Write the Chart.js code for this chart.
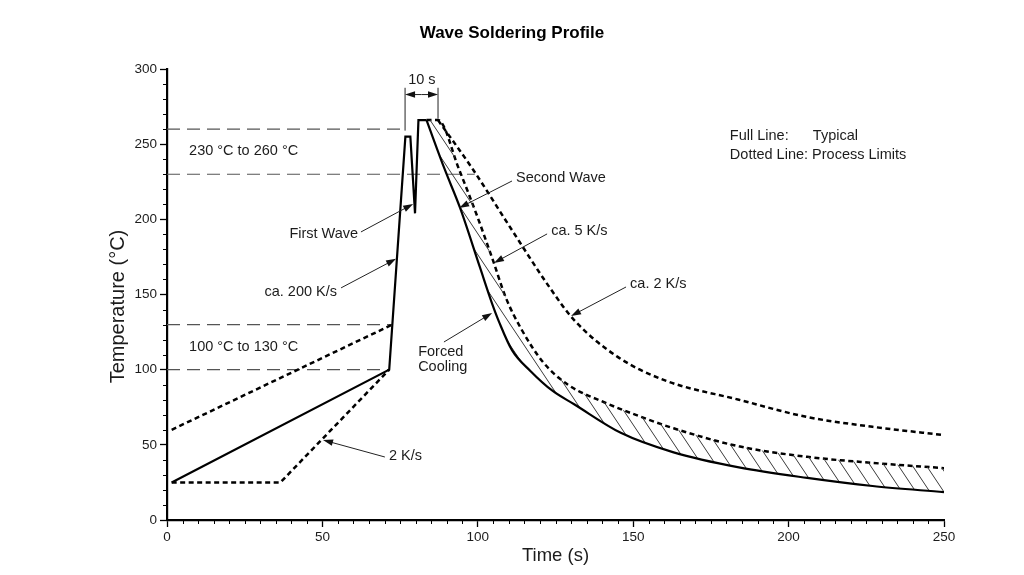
<!DOCTYPE html>
<html>
<head>
<meta charset="utf-8">
<title>Wave Soldering Profile</title>
<script src="https://cdn.jsdelivr.net/npm/chart.js@4.4.1/dist/chart.umd.min.js"></script>
<style>
  html, body { margin: 0; padding: 0; background: #fff; }
  #wrap { width: 1024px; height: 575px; }
</style>
</head>
<body>
<div id="wrap"><canvas id="profileChart" width="1024" height="575"></canvas></div>
<script>
// values: time in s, temperature in °C

// typical profile (full line): preheat + both waves
const heatTime = [1.5, 71.5, 76.7, 78.3, 79.8, 80.9, 83.5];
const heatTemp = [25, 100, 255, 255, 204, 266, 266];

// typical profile (full line): forced cooling
const coolTime = [83.5, 89.4, 94.3, 100.7, 104.6, 107, 111, 117, 124, 131, 146, 163, 184, 206, 227, 250];
const coolTemp = [266, 233, 207.6, 168, 144, 131, 113, 99, 86, 77, 58, 45, 35, 28, 22.6, 18.5];

// process limits (dotted lines)
const lowPreTime = [1.5, 36.5, 71.5];
const lowPreTemp = [25, 25, 100];
const highPreTime = [1.5, 72.5];
const highPreTemp = [60, 130];

const fastCoolTime = [83.5, 87.2, 94, 100, 105, 109, 114, 121, 129, 141, 152, 163, 184, 206, 227, 250];
const fastCoolTemp = [266, 266, 233, 201, 172, 148, 127, 105, 90, 78, 69, 61, 49, 42, 38, 34.5];

const slowCoolTime = [87.2, 98.5, 110, 123, 131, 145, 160, 184, 206, 227, 250];
const slowCoolTemp = [266, 233, 196, 155, 133, 108.5, 93, 80, 68.5, 62, 56.5];

// dashed reference levels and where they stop
const refLevels = [260, 230, 130, 100];
const refEnds = [76.6, 99, 72.5, 71.5];

const xMajorStep = 50, xMinorStep = 5;
const yMajorStep = 50, yMinorStep = 10;

function pts(xs, ys) {
  return xs.map((x, i) => ({ x: x, y: ys[i] }));
}

function hatchPattern() {
  const c = document.createElement('canvas');
  c.width = 14; c.height = 21;
  const g = c.getContext('2d');
  g.strokeStyle = '#3a3a3a';
  g.lineWidth = 1;
  g.beginPath();
  [-14, 0, 14].forEach(function(dx) { g.moveTo(dx, 0); g.lineTo(dx + 14, 21); });
  g.stroke();
  return g.createPattern(c, 'repeat');
}

const FONT = "'Liberation Sans', Arial, Helvetica, sans-serif";
const INK = '#1c1c1c';

const solid = { borderColor: '#000', borderWidth: 2.2, pointRadius: 0, fill: false };
const dotted = { borderColor: '#000', borderWidth: 2.5, borderDash: [5, 3.5], pointRadius: 0, fill: false };

// text labels and leader arrows, placed in data units (s, °C)
const labels = [
  { text: '10 s', t: 82, T: 292.5, align: 'center' },
  { text: '230 °C to 260 °C', t: 7.1, T: 245.5, align: 'left' },
  { text: '100 °C to 130 °C', t: 7.1, T: 115.3, align: 'left' },
  { text: 'First Wave', t: 61.5, T: 190, align: 'right' },
  { text: 'ca. 200 K/s', t: 54.7, T: 151.7, align: 'right' },
  { text: 'Second Wave', t: 112.3, T: 227.5, align: 'left' },
  { text: 'ca. 5 K/s', t: 123.6, T: 192.3, align: 'left' },
  { text: 'ca. 2 K/s', t: 149, T: 157, align: 'left' },
  { text: 'Forced', t: 80.8, T: 112, align: 'left' },
  { text: 'Cooling', t: 80.8, T: 102, align: 'left' },
  { text: '2 K/s', t: 71.4, T: 42.6, align: 'left' },
  { text: 'Full Line:', t: 181.1, T: 255.5, align: 'left' },
  { text: 'Typical', t: 207.8, T: 255.5, align: 'left' },
  { text: 'Dotted Line: Process Limits', t: 181.1, T: 243, align: 'left' }
];

const arrows = [
  [62.4, 191.6, 79.2, 210.2],
  [56, 154.4, 73.7, 173.7],
  [111, 225.5, 94, 207.6],
  [122.3, 190.3, 105.2, 171],
  [147.7, 155, 130, 135.7],
  [89.1, 118.4, 104.6, 137.7],
  [70.1, 41.9, 50.2, 53.2]
];

function arrow(ctx, x1, y1, x2, y2) {
  const a = Math.atan2(y2 - y1, x2 - x1);
  const len = 10, half = 3.3;
  ctx.beginPath();
  ctx.moveTo(x1, y1);
  ctx.lineTo(x2 - Math.cos(a) * len * 0.8, y2 - Math.sin(a) * len * 0.8);
  ctx.stroke();
  ctx.beginPath();
  ctx.moveTo(x2, y2);
  ctx.lineTo(x2 - len * Math.cos(a) + half * Math.sin(a), y2 - len * Math.sin(a) - half * Math.cos(a));
  ctx.lineTo(x2 - len * Math.cos(a) - half * Math.sin(a), y2 - len * Math.sin(a) + half * Math.cos(a));
  ctx.closePath();
  ctx.fill();
}

const minorTicks = {
  id: 'minorTicks',
  afterDraw(chart) {
    const { ctx, scales: { x, y } } = chart;
    ctx.save();
    ctx.strokeStyle = '#000';
    ctx.lineWidth = 1;
    ctx.beginPath();
    for (let v = x.min; v <= x.max; v += xMinorStep) {
      if (v % xMajorStep === 0) continue;
      const px = Math.round(x.getPixelForValue(v)) + 0.5;
      ctx.moveTo(px, x.top); ctx.lineTo(px, x.top + 4);
    }
    for (let v = y.min; v <= y.max; v += yMinorStep) {
      if (v % yMajorStep === 0) continue;
      const py = Math.round(y.getPixelForValue(v)) + 0.5;
      ctx.moveTo(y.right, py); ctx.lineTo(y.right - 4, py);
    }
    ctx.stroke();
    ctx.restore();
  }
};

const notes = {
  id: 'notes',
  afterDatasetsDraw(chart) {
    const { ctx, scales: { x, y } } = chart;
    ctx.save();
    ctx.fillStyle = INK;
    ctx.font = '14.5px ' + FONT;
    ctx.textBaseline = 'middle';
    labels.forEach(function(l) {
      ctx.textAlign = l.align;
      ctx.fillText(l.text, x.getPixelForValue(l.t), y.getPixelForValue(l.T));
    });

    // y axis title, sits a little below the middle of the axis
    ctx.save();
    ctx.font = '20px ' + FONT;
    ctx.textAlign = 'center';
    ctx.translate(118, y.getPixelForValue(142));
    ctx.rotate(-Math.PI / 2);
    ctx.fillText('Temperature (°C)', 0, 0);
    ctx.restore();

    ctx.strokeStyle = '#222';
    ctx.fillStyle = '#111';
    ctx.lineWidth = 1;
    arrows.forEach(function(a) {
      arrow(ctx, x.getPixelForValue(a[0]), y.getPixelForValue(a[1]),
                 x.getPixelForValue(a[2]), y.getPixelForValue(a[3]));
    });

    // 10 s dimension
    const xa = x.getPixelForValue(76.6), xb = x.getPixelForValue(87.2);
    const top = y.getPixelForValue(287.5);
    ctx.beginPath();
    ctx.moveTo(xa, top); ctx.lineTo(xa, y.getPixelForValue(259));
    ctx.moveTo(xb, top); ctx.lineTo(xb, y.getPixelForValue(267));
    ctx.stroke();
    const ym = y.getPixelForValue(283);
    const mid = (xa + xb) / 2;
    arrow(ctx, mid, ym, xa, ym);
    arrow(ctx, mid, ym, xb, ym);
    ctx.restore();
  }
};

const refSets = refLevels.map(function(lvl, i) {
  return {
    data: pts([0, refEnds[i]], [lvl, lvl]),
    borderColor: '#555', borderWidth: 1.2, borderDash: [13, 7],
    pointRadius: 0, fill: false
  };
});

const ctx = document.getElementById('profileChart');
new Chart(ctx, {
  type: 'line',
  data: {
    datasets: [
      Object.assign({ data: pts(heatTime, heatTemp), tension: 0 }, solid),
      Object.assign({}, solid, {
        data: pts(coolTime, coolTemp),
        cubicInterpolationMode: 'monotone',
        fill: '+1',
        backgroundColor: hatchPattern()
      }),
      Object.assign({ data: pts(fastCoolTime, fastCoolTemp), cubicInterpolationMode: 'monotone' }, dotted),
      Object.assign({ data: pts(slowCoolTime, slowCoolTemp), cubicInterpolationMode: 'monotone' }, dotted),
      Object.assign({ data: pts(lowPreTime, lowPreTemp), tension: 0 }, dotted),
      Object.assign({ data: pts(highPreTime, highPreTemp), tension: 0 }, dotted)
    ].concat(refSets)
  },
  options: {
    responsive: false,
    animation: false,
    devicePixelRatio: 1,
    layout: { padding: 0 },
    plugins: {
      legend: { display: false },
      tooltip: { enabled: false },
      title: {
        display: true,
        text: 'Wave Soldering Profile',
        color: '#000',
        font: { family: FONT, size: 17, weight: 'bold' },
        padding: { top: 23, bottom: 25.6 }
      }
    },
    scales: {
      x: {
        type: 'linear',
        min: 0, max: 250,
        ticks: { stepSize: xMajorStep, color: INK, font: { family: FONT, size: 13.5 }, padding: 2, maxRotation: 0 },
        grid: { drawOnChartArea: false, tickLength: 7, tickColor: '#000', tickWidth: 1.3 },
        border: { color: '#000', width: 2.2 },
        title: { display: true, text: 'Time (s)', color: INK, font: { family: FONT, size: 18.5 }, padding: { top: 0, bottom: 8 } },
        afterFit: function(s) { s.height = 55; }
      },
      y: {
        type: 'linear',
        min: 0, max: 300,
        ticks: { stepSize: yMajorStep, color: INK, font: { family: FONT, size: 13.5 }, padding: 3 },
        grid: { drawOnChartArea: false, tickLength: 7, tickColor: '#000', tickWidth: 1.3 },
        border: { color: '#000', width: 2.2 },
        afterFit: function(s) { s.width = 167; }
      },
      // empty margin on the right so the title centres on the page
      yPad: {
        type: 'linear',
        position: 'right',
        min: 0, max: 300,
        ticks: { display: false },
        grid: { display: false, drawTicks: false },
        border: { display: false },
        afterFit: function(s) { s.width = 80; }
      }
    }
  },
  plugins: [minorTicks, notes]
});
</script>
</body>
</html>
